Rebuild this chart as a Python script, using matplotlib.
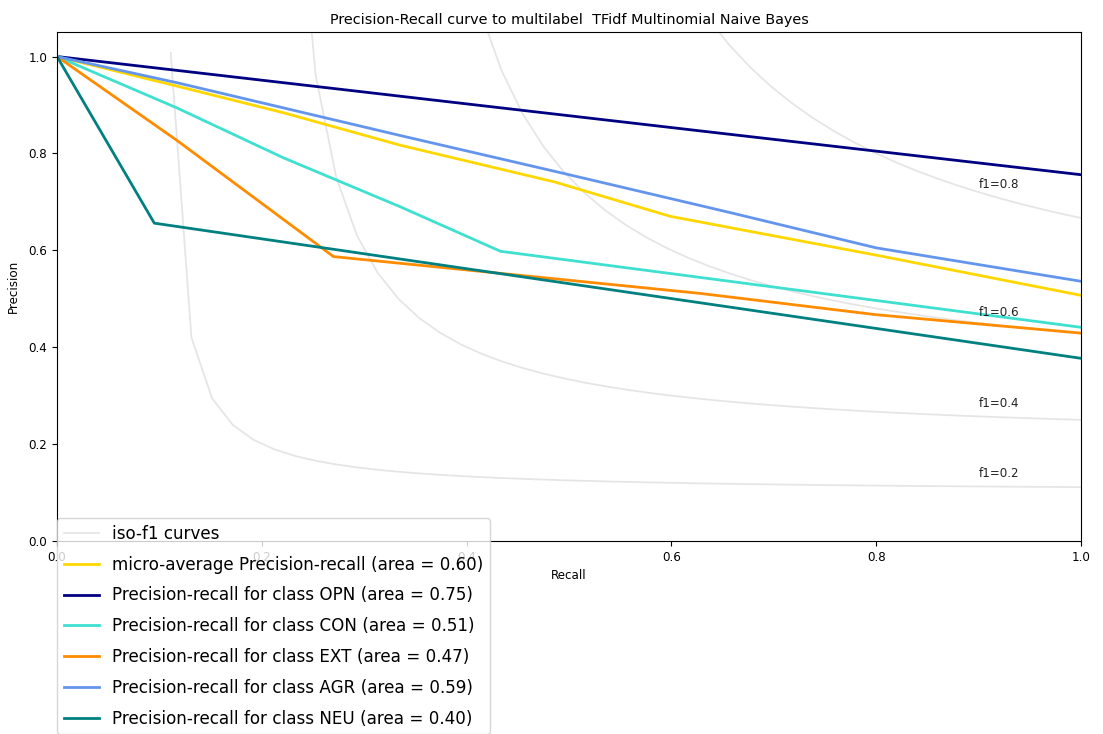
#!/usr/bin/env python3
"""
Precision-recall curves for a multilabel TFidf Multinomial Naive Bayes model.
"""

import numpy as np
import matplotlib
matplotlib.use("Agg")
import matplotlib.pyplot as plt

# Values
F1_LEVELS = [0.2, 0.4, 0.6, 0.8]

MICRO_RECALL = [0.0, 0.117, 0.221, 0.335, 0.486, 0.599, 0.8, 1.0]
MICRO_PRECISION = [1.0, 0.939, 0.884, 0.817, 0.741, 0.670, 0.590, 0.507]
MICRO_AREA = 0.60

CLASS_NAMES = ["OPN", "CON", "EXT", "AGR", "NEU"]
CLASS_AREAS = [0.75, 0.51, 0.47, 0.59, 0.40]
CLASS_RECALL = [
    [0.0, 0.63, 1.0],
    [0.0, 0.117, 0.221, 0.335, 0.433, 1.0],
    [0.0, 0.117, 0.270, 0.628, 0.8, 1.0],
    [0.0, 0.117, 0.221, 0.335, 0.486, 0.657, 0.8, 1.0],
    [0.0, 0.095, 1.0],
]
CLASS_PRECISION = [
    [1.0, 0.846, 0.756],
    [1.0, 0.894, 0.791, 0.690, 0.598, 0.441],
    [1.0, 0.827, 0.587, 0.511, 0.467, 0.429],
    [1.0, 0.946, 0.894, 0.837, 0.763, 0.678, 0.605, 0.536],
    [1.0, 0.656, 0.377],
]
CLASS_COLORS = ["navy", "turquoise", "darkorange", "cornflowerblue", "teal"]


def main():
    fig = plt.figure(figsize=(11.03, 7.34), dpi=100)
    ax = fig.add_axes([0.0517, 0.263, 0.9284, 0.693])

    lines = []
    labels = []

    # iso-f1 guide curves
    for f_score in F1_LEVELS:
        x = np.linspace(0.01, 1)
        y = f_score * x / (2 * x - f_score)
        l, = ax.plot(x[y >= 0], y[y >= 0], color="gray", alpha=0.2, lw=1.3)
        ax.annotate("f1={0:0.1f}".format(f_score), xy=(0.9, y[45] + 0.02),
                    fontsize=8.6, color="#222222")
    lines.append(l)
    labels.append("iso-f1 curves")

    l, = ax.plot(MICRO_RECALL, MICRO_PRECISION, color="gold", lw=2)
    lines.append(l)
    labels.append("micro-average Precision-recall (area = {0:0.2f})".format(MICRO_AREA))

    for name, area, rec, prec, color in zip(CLASS_NAMES, CLASS_AREAS, CLASS_RECALL,
                                            CLASS_PRECISION, CLASS_COLORS):
        l, = ax.plot(rec, prec, color=color, lw=2)
        lines.append(l)
        labels.append("Precision-recall for class {0} (area = {1:0.2f})".format(name, area))

    ax.set_xlim([0.0, 1.0])
    ax.set_ylim([0.0, 1.05])
    ax.tick_params(labelsize=8.6)
    ax.set_xlabel("Recall", fontsize=8.6)
    ax.set_ylabel("Precision", fontsize=8.6, labelpad=6)
    ax.set_title("Precision-Recall curve to multilabel  TFidf Multinomial Naive Bayes",
                 fontsize=10.4, pad=6)

    ax.legend(lines, labels, loc=(0, -0.38), prop=dict(size=12.1),
              labelspacing=0.76, borderpad=0.4, handlelength=2.1)

    fig.savefig("out.png", dpi=100)
    plt.close(fig)


if __name__ == "__main__":
    main()
